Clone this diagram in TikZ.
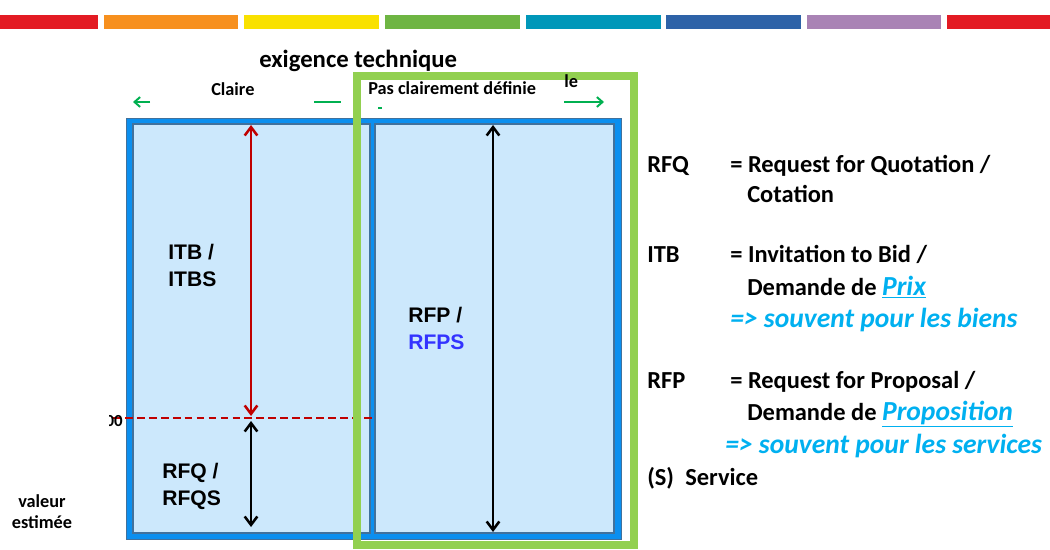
\documentclass[tikz,border=0pt]{standalone}
\usepackage{fontspec}
\setmainfont{Carlito}
\newfontfamily\arialfont{Liberation Sans}
\usetikzlibrary{arrows.meta, positioning}

\definecolor{barred}{HTML}{E31B23}
\definecolor{barorange}{HTML}{F7901E}
\definecolor{baryellow}{HTML}{F9E100}
\definecolor{bargreen}{HTML}{6EB543}
\definecolor{barteal}{HTML}{0097B9}
\definecolor{barblue}{HTML}{2E63A8}
\definecolor{barpurple}{HTML}{A983B5}
\definecolor{framebright}{HTML}{0B8FEF}
\definecolor{framedark}{HTML}{41719C}
\definecolor{panelfill}{HTML}{CCE8FC}
\definecolor{boxgreen}{HTML}{92D050}
\definecolor{arrowgreen}{HTML}{00B050}
\definecolor{arrowred}{HTML}{C00000}
\definecolor{hintblue}{HTML}{00B0F0}
\definecolor{rfpsblue}{HTML}{3333FF}

\begin{document}
\begin{tikzpicture}[
    x=0.025cm, y=-0.025cm,
    >={Straight Barb[length=6pt, width=9pt]},
    panel/.style={draw=framedark, line width=1.2pt, fill=panelfill},
    span/.style={<->, line width=1.8pt},
    tag/.style={font=\arialfont\fontsize{15}{19}\selectfont\bfseries, align=left, anchor=north west, inner sep=0pt},
    head/.style={font=\fontsize{13}{15}\selectfont\bfseries, anchor=base west, inner sep=0pt},
    legend/.style={font=\fontsize{17.4}{20}\selectfont\bfseries, anchor=base west, inner sep=0pt},
    hint/.style={legend, text=hintblue, font=\fontsize{19.6}{22}\selectfont\bfseries\itshape}
]
\useasboundingbox (0,0) rectangle (1050,550);

% ----------------------------------------------------
% Colour strip on top
% ----------------------------------------------------
\foreach \xa/\xb/\col in {0/98/barred, 104/238/barorange, 244/379/baryellow, 385/520/bargreen,
    526/661/barteal, 666/801/barblue, 807/941/barpurple, 947/1050/barred}
    \fill[\col] (\xa,15) rectangle (\xb,29);

% ----------------------------------------------------
% Blue frame with the two panels
% ----------------------------------------------------
\filldraw[fill=framebright, draw=framedark, line width=0.6pt] (126,118) rectangle (621,539);
\node[panel, minimum width=237*0.025cm, minimum height=409*0.025cm, inner sep=0pt] (Left) at (251.5,328.5) {};
\node[panel, minimum width=239*0.025cm, minimum height=409*0.025cm, inner sep=0pt] (Right) at (494.5,328.5) {};

% threshold line
\coordinate (LimitW) at (113,418);
\coordinate (LimitE) at (372,418);
\draw[arrowred, dashed, dash pattern=on 5.5pt off 3pt, line width=1.4pt] (LimitW) -- (LimitE);
\begin{scope}
    \clip (109,400) rectangle (130,440);
    \node[head, anchor=base east, font=\fontsize{12}{14}\selectfont\bfseries] (Limit) at (123,426) {00};
\end{scope}

% vertical spans
\coordinate (ItbTop) at (251,125);
\coordinate (ItbBot) at (251,416);
\coordinate (RfqTop) at (251,421);
\coordinate (RfqBot) at (251,527);
\coordinate (RfpTop) at (493,125);
\coordinate (RfpBot) at (493,532);
\draw[span, arrowred] (ItbTop) -- (ItbBot);
\draw[span] (RfqTop) -- (RfqBot);
\draw[span] (RfpTop) -- (RfpBot);

\node[tag] (ITB) at (168,244) {ITB /\\ITBS};
\node[tag] (RFQ) at (162,463) {RFQ /\\RFQS};
\node[tag] (RFP) at (408,307) {RFP /\\{\color{rfpsblue}RFPS}};

\node[font=\fontsize{13}{15.5}\selectfont\bfseries, align=center, anchor=north, inner sep=0pt] (Value) at (42,494) {valeur\\estimée};

% ----------------------------------------------------
% Green frame and the axis on top
% ----------------------------------------------------
\draw[boxgreen, line width=5.3pt] (357,76) rectangle (634,545);

\node[font=\fontsize{17.6}{20}\selectfont\bfseries, anchor=base west, inner sep=0pt] (Axis) at (259,68) {exigence technique};
\node[head] (Clear) at (211,96) {Claire};
\node[head] (Unclear) at (368,95) {Pas clairement définie};
\node[head] (Tail) at (564,88) {le};

\coordinate (ArrL1) at (150,102);
\coordinate (ArrL2) at (133,102);
\coordinate (DashA) at (314,102);
\coordinate (DashB) at (341,102);
\coordinate (ArrR1) at (564,102);
\coordinate (ArrR2) at (604,102);
\coordinate (DotA) at (378,108);
\coordinate (DotB) at (382,108);
\draw[->, arrowgreen, line width=1.4pt, >={Straight Barb[length=4pt, width=7pt]}] (ArrL1) -- (ArrL2);
\draw[arrowgreen, line width=1.4pt] (DashA) -- (DashB);
\draw[->, arrowgreen, line width=1.4pt, >={Straight Barb[length=4pt, width=7pt]}] (ArrR1) -- (ArrR2);
\draw[arrowgreen, line width=1.2pt] (DotA) -- (DotB);

% ----------------------------------------------------
% Legend
% ----------------------------------------------------
\node[legend] (KeyRFQ) at (647,173) {RFQ};
\node[legend] (DefRFQ) at (730,173) {= Request for Quotation /};
\node[legend] (DefRFQb) at (747,203) {Cotation};

\node[legend] (KeyITB) at (647,262) {ITB};
\node[legend] (DefITB) at (730,262) {= Invitation to Bid /};
\node[legend] (DefITBb) at (747,295) {Demande de {\color{hintblue}\fontsize{19.6}{22}\selectfont\itshape\underline{Prix}}};
\node[hint] (NoteITB) at (730,327) {=> souvent pour les biens};

\node[legend] (KeyRFP) at (647,388) {RFP};
\node[legend] (DefRFP) at (730,388) {= Request for Proposal /};
\node[legend] (DefRFPb) at (747,420) {Demande de {\color{hintblue}\fontsize{19.6}{22}\selectfont\itshape\underline{Proposition}}};
\node[hint] (NoteRFP) at (725,453) {=> souvent pour les services};

\node[legend] (KeyS) at (647,485) {(S)};
\node[legend] (DefS) at (685,485) {Service};

\end{tikzpicture}
\end{document}
